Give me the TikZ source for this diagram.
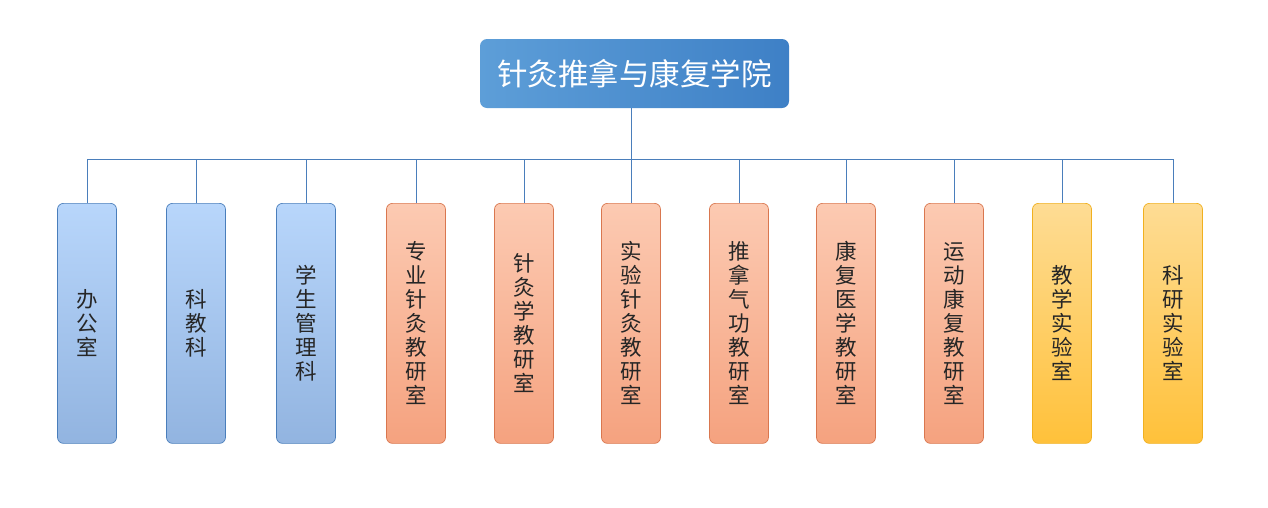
\documentclass[tikz,border=0pt]{standalone}
\usepackage{fontspec}
\newfontfamily\cjk{Noto Sans CJK SC}
\begin{document}
\begin{tikzpicture}[x=1pt,y=-1pt,
  box/.style={rounded corners=6pt,minimum width=59pt,minimum height=240pt,inner sep=0pt,font=\cjk\fontsize{21.5}{24}\selectfont,text=black!85,align=center,anchor=north,line width=0.7pt},
  bluebox/.style={box,top color={rgb,255:red,184;green,214;blue,251},bottom color={rgb,255:red,146;green,180;blue,224},draw={rgb,255:red,74;green,126;blue,187}},
  orbox/.style={box,top color={rgb,255:red,252;green,202;blue,178},bottom color={rgb,255:red,245;green,162;blue,127},draw={rgb,255:red,217;green,119;blue,79}},
  yebox/.style={box,top color={rgb,255:red,254;green,220;blue,148},bottom color={rgb,255:red,255;green,193;blue,58},draw={rgb,255:red,240;green,176;blue,32}},
  link/.style={draw={rgb,255:red,74;green,126;blue,187},line width=0.8pt}]
\useasboundingbox (0,0) rectangle (1268,507);
\node[rounded corners=7pt,minimum width=309pt,minimum height=69pt,left color={rgb,255:red,93;green,158;blue,216},right color={rgb,255:red,62;green,128;blue,198},text=white,font=\cjk\fontsize{30.5}{34}\selectfont] (top) at (634.5,73.5) {针灸推拿与康复学院};
\coordinate (bar) at (631,159);
\draw[link] (top.south -| bar) -- (bar);
\draw[link] (87,159) -- (1173,159);
\foreach \x/\n/\t/\s in {87/a/办\\公\\室/bluebox,196/b/科\\教\\科/bluebox,306/c/学\\生\\管\\理\\科/bluebox,416/d/专\\业\\针\\灸\\教\\研\\室/orbox,524/e/针\\灸\\学\\教\\研\\室/orbox,631/f/实\\验\\针\\灸\\教\\研\\室/orbox,739/g/推\\拿\\气\\功\\教\\研\\室/orbox,846/h/康\\复\\医\\学\\教\\研\\室/orbox,954/i/运\\动\\康\\复\\教\\研\\室/orbox,1062/j/教\\学\\实\\验\\室/yebox,1173/k/科\\研\\实\\验\\室/yebox}{
  \node[\s] (\n) at (\x,203) {\t};
  \draw[link] (\n.north) -- (\x,159);
}
\end{tikzpicture}
\end{document}
